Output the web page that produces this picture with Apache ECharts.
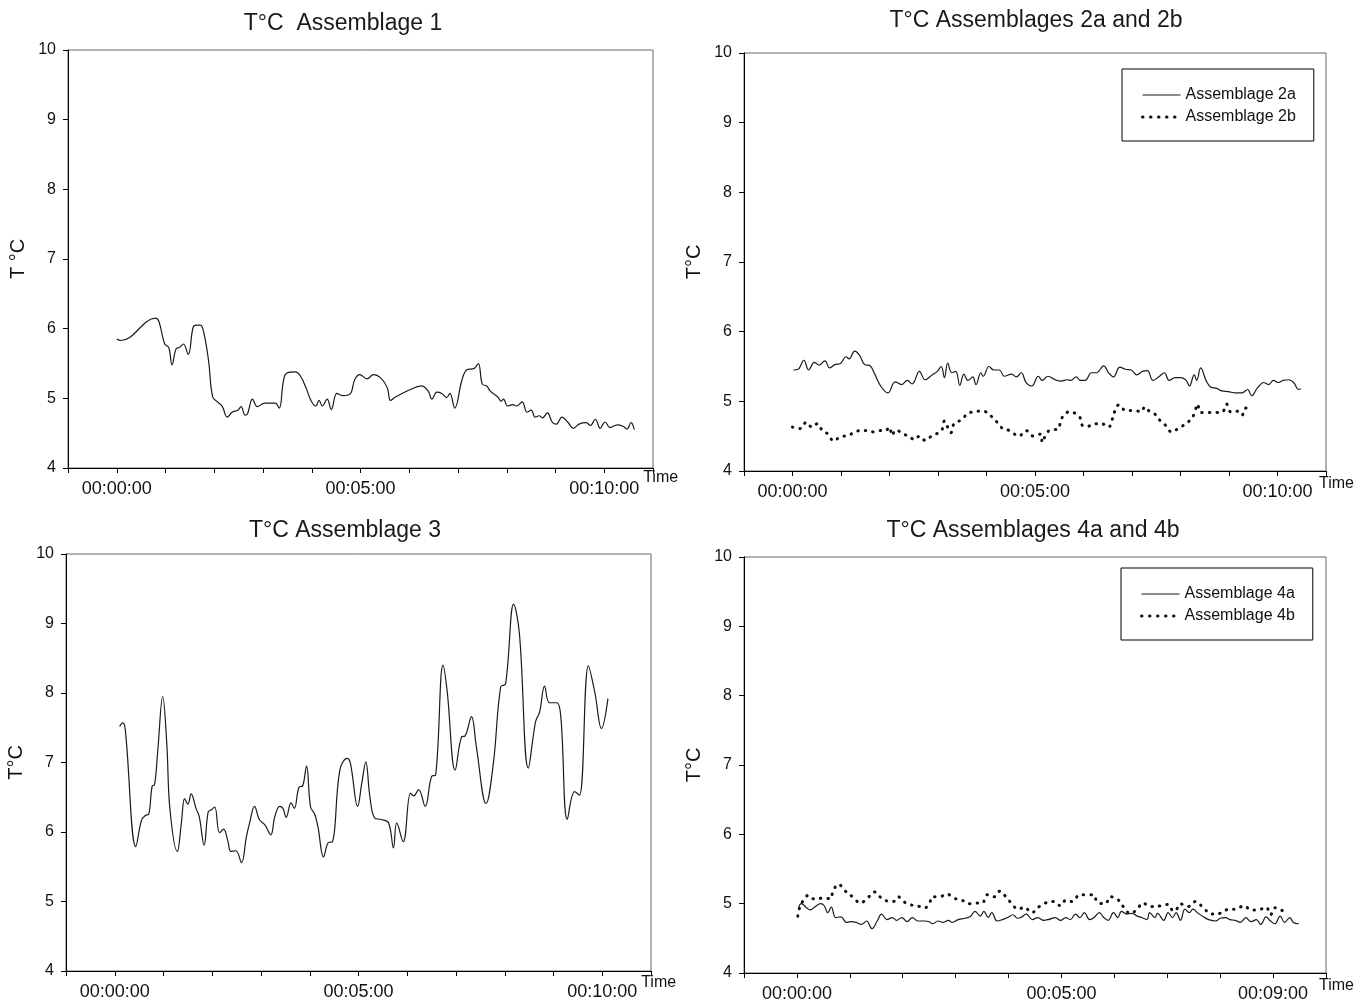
<!DOCTYPE html>
<html>
<head>
<meta charset="utf-8">
<title>Temperature of assemblages</title>
<script src="https://cdn.jsdelivr.net/npm/echarts@6/dist/echarts.min.js"></script>
<style>
  html, body { margin: 0; padding: 0; background: #fff; }
  #chart { width: 1370px; height: 1003px; }
</style>
</head>
<body>
<div id="chart"></div>
<script>
// ---- Data: elapsed time in seconds, temperature in °C ----

// Assemblage 1
const a1Time = [0, 5, 48, 52, 59, 64, 68, 73, 77, 82, 88, 94, 98, 103, 107, 113, 118, 124, 130, 136,
  142, 149, 153, 158, 161, 167, 173, 182, 195, 200, 205, 209, 220, 226, 233, 239, 245, 249, 253, 259,
  264, 271, 278, 287, 293, 299, 308, 316, 326, 333, 337, 343, 360, 375, 383, 388, 394, 400, 406, 410,
  416, 425, 431, 440, 445, 450, 455, 460, 469, 473, 476, 481, 487, 492, 499, 505, 510, 515, 520, 524,
  530, 536, 541, 548, 555, 562, 569, 578, 583, 589, 595, 601, 607, 616, 623, 628, 633, 637];
const a1Temp = [5.85, 5.83, 6.15, 6.10, 5.78, 5.73, 5.48, 5.71, 5.73, 5.78, 5.63, 6.02, 6.05, 6.05, 5.95, 5.54, 5.02, 4.95, 4.88, 4.73,
  4.80, 4.83, 4.88, 4.76, 4.78, 4.99, 4.88, 4.93, 4.93, 4.86, 5.24, 5.36, 5.38, 5.32, 5.15, 4.97, 4.89, 4.97, 4.89, 4.99,
  4.84, 5.07, 5.04, 5.06, 5.27, 5.34, 5.28, 5.34, 5.28, 5.15, 4.97, 5.02, 5.12, 5.18, 5.11, 4.99, 5.09, 5.07, 5.01, 5.07,
  4.86, 5.27, 5.41, 5.43, 5.50, 5.20, 5.18, 5.10, 5.02, 4.96, 4.99, 4.89, 4.91, 4.89, 4.95, 4.80, 4.83, 4.73, 4.75, 4.72,
  4.79, 4.66, 4.63, 4.73, 4.66, 4.57, 4.63, 4.65, 4.61, 4.70, 4.57, 4.66, 4.58, 4.62, 4.60, 4.56, 4.65, 4.55];

// Assemblage 2a
const a2aTime = [1, 7, 14, 20, 27, 33, 40, 46, 53, 59, 66, 70, 77, 83, 89, 96, 101, 109, 118, 127,
  135, 142, 148, 157, 164, 173, 179, 184, 188, 192, 197, 202, 207, 212, 217, 223, 227, 233, 236, 243,
  249, 256, 262, 271, 277, 283, 289, 296, 304, 309, 316, 325, 332, 340, 344, 351, 356, 362, 370, 376,
  385, 391, 397, 405, 412, 419, 426, 433, 439, 446, 454, 460, 466, 473, 481, 487, 491, 497, 500, 505,
  512, 518, 524, 531, 539, 548, 556, 563, 568, 575, 583, 589, 595, 601, 607, 614, 620, 626, 629];
const a2aTemp = [5.45, 5.46, 5.59, 5.45, 5.56, 5.52, 5.58, 5.48, 5.53, 5.54, 5.64, 5.61, 5.72, 5.66, 5.53, 5.51, 5.41, 5.22, 5.12, 5.28,
  5.24, 5.30, 5.25, 5.43, 5.31, 5.38, 5.43, 5.50, 5.34, 5.55, 5.41, 5.43, 5.23, 5.39, 5.30, 5.35, 5.24, 5.41, 5.36, 5.50,
  5.45, 5.45, 5.36, 5.39, 5.35, 5.41, 5.27, 5.22, 5.36, 5.30, 5.36, 5.31, 5.29, 5.31, 5.30, 5.35, 5.30, 5.30, 5.41, 5.41,
  5.51, 5.41, 5.35, 5.49, 5.46, 5.45, 5.38, 5.43, 5.44, 5.30, 5.36, 5.41, 5.30, 5.34, 5.34, 5.30, 5.22, 5.38, 5.30, 5.48,
  5.29, 5.20, 5.19, 5.15, 5.14, 5.12, 5.12, 5.17, 5.08, 5.19, 5.27, 5.24, 5.30, 5.27, 5.30, 5.31, 5.27, 5.17, 5.18];

// Assemblage 2b
const a2bTime = [0, 10, 17, 24, 31, 37, 44, 51, 59, 69, 77, 84, 92, 101, 107, 115, 120, 123, 128, 137,
  144, 151, 157, 164, 173, 181, 185, 188, 192, 196, 200, 210, 216, 224, 233, 241, 248, 254, 261, 269,
  280, 289, 298, 307, 309, 313, 319, 328, 332, 336, 343, 351, 356, 359, 365, 373, 382, 391, 395, 398,
  404, 412, 423, 431, 436, 442, 448, 455, 462, 469, 476, 483, 491, 497, 501, 505, 512, 523, 532, 537,
  542, 548, 552, 556, 560, 569];
const a2bTemp = [4.63, 4.61, 4.70, 4.63, 4.68, 4.58, 4.53, 4.43, 4.49, 4.51, 4.56, 4.58, 4.58, 4.56, 4.58, 4.58, 4.63, 4.51, 4.59, 4.53,
  4.50, 4.45, 4.50, 4.44, 4.51, 4.55, 4.59, 4.72, 4.63, 4.55, 4.68, 4.74, 4.82, 4.85, 4.86, 4.84, 4.76, 4.69, 4.60, 4.58,
  4.50, 4.58, 4.50, 4.53, 4.41, 4.51, 4.59, 4.60, 4.72, 4.81, 4.85, 4.82, 4.76, 4.65, 4.64, 4.68, 4.68, 4.63, 4.72, 4.84,
  4.95, 4.87, 4.87, 4.85, 4.92, 4.85, 4.82, 4.72, 4.65, 4.56, 4.60, 4.65, 4.72, 4.82, 4.96, 4.84, 4.84, 4.84, 4.85, 4.96,
  4.85, 4.86, 4.85, 4.80, 4.90, 4.91];

// Assemblage 3
const a3Time = [6, 10, 13, 26, 33, 38, 42, 46, 49, 53, 59, 64, 68, 77, 82, 86, 90, 94, 100, 104,
  110, 115, 119, 123, 129, 134, 139, 143, 149, 156, 162, 166, 172, 178, 185, 192, 197, 203, 207, 211,
  217, 221, 227, 231, 236, 241, 246, 250, 257, 263, 268, 277, 286, 290, 299, 304, 309, 314, 320, 328,
  337, 343, 347, 355, 364, 368, 374, 382, 390, 395, 404, 409, 419, 427, 431, 439, 445, 457, 466, 475,
  481, 491, 498, 509, 518, 523, 529, 535, 544, 549, 557, 566, 572, 583, 591, 599, 607];
const a3Temp = [7.52, 7.57, 7.47, 5.79, 6.17, 6.24, 6.26, 6.66, 6.68, 7.18, 7.95, 7.28, 6.32, 5.72, 6.13, 6.48, 6.40, 6.55, 6.34, 6.22,
  5.81, 6.29, 6.32, 6.36, 5.99, 6.04, 5.88, 5.72, 5.73, 5.56, 5.93, 6.13, 6.37, 6.18, 6.10, 5.96, 6.22, 6.37, 6.34, 6.21,
  6.42, 6.34, 6.65, 6.66, 6.95, 6.36, 6.26, 6.08, 5.64, 5.85, 5.86, 6.89, 7.06, 6.99, 6.37, 6.70, 7.01, 6.51, 6.20, 6.18,
  6.13, 5.77, 6.13, 5.86, 6.56, 6.52, 6.61, 6.37, 6.80, 6.82, 8.40, 8.04, 6.89, 7.37, 7.38, 7.66, 7.23, 6.41, 6.99, 8.09,
  8.13, 9.28, 8.86, 6.92, 7.59, 7.73, 8.10, 7.86, 7.86, 7.66, 6.18, 6.58, 6.53, 8.39, 8.00, 7.49, 7.92];

// Assemblage 4a
const a4aTime = [2, 5, 11, 15, 21, 27, 31, 35, 39, 44, 50, 56, 61, 67, 73, 79, 85, 91, 96, 102,
  108, 113, 119, 125, 131, 137, 145, 150, 154, 160, 166, 172, 176, 183, 191, 197, 202, 208, 212, 217,
  221, 227, 233, 239, 245, 250, 254, 260, 267, 273, 280, 285, 293, 299, 305, 310, 316, 321, 326, 332,
  337, 343, 348, 353, 359, 364, 368, 374, 380, 386, 391, 397, 400, 406, 409, 416, 421, 426, 430, 435,
  440, 445, 449, 455, 461, 467, 475, 480, 486, 491, 497, 503, 509, 515, 521, 526, 532, 537, 542, 548,
  553, 559, 563, 569];
const a4aTemp = [4.95, 5.00, 4.94, 4.91, 4.96, 5.00, 4.97, 4.87, 4.95, 4.80, 4.81, 4.73, 4.74, 4.73, 4.70, 4.75, 4.64, 4.75, 4.85, 4.77,
  4.80, 4.76, 4.80, 4.74, 4.80, 4.75, 4.75, 4.74, 4.71, 4.75, 4.73, 4.76, 4.73, 4.77, 4.79, 4.82, 4.89, 4.82, 4.89, 4.80,
  4.87, 4.75, 4.77, 4.80, 4.84, 4.79, 4.80, 4.85, 4.77, 4.80, 4.76, 4.77, 4.80, 4.76, 4.80, 4.77, 4.85, 4.80, 4.87, 4.77,
  4.80, 4.87, 4.80, 4.76, 4.87, 4.80, 4.89, 4.85, 4.86, 4.82, 4.80, 4.77, 4.87, 4.80, 4.86, 4.76, 4.87, 4.80, 4.87, 4.76,
  4.92, 4.87, 4.92, 4.86, 4.81, 4.77, 4.75, 4.79, 4.80, 4.77, 4.76, 4.73, 4.80, 4.74, 4.77, 4.70, 4.81, 4.75, 4.71, 4.82,
  4.73, 4.80, 4.73, 4.71];

// Assemblage 4b
const a4bTime = [1, 3, 7, 13, 19, 31, 38, 41, 47, 55, 64, 72, 80, 88, 94, 102, 109, 115, 119, 127,
  136, 145, 150, 154, 162, 170, 178, 187, 196, 202, 210, 216, 224, 230, 237, 243, 251, 258, 266, 275,
  282, 291, 299, 305, 312, 321, 329, 336, 341, 350, 355, 363, 370, 378, 386, 392, 401, 407, 413, 421,
  427, 430, 435, 440, 444, 452, 461, 470, 480, 490, 497, 507, 515, 523, 532, 537, 542, 548, 551, 556];
const a4bTemp = [4.82, 4.94, 5.04, 5.12, 5.07, 5.08, 5.07, 5.18, 5.28, 5.18, 5.09, 5.01, 5.08, 5.17, 5.10, 5.04, 5.03, 5.10, 5.05, 4.99,
  4.97, 4.94, 5.00, 5.10, 5.10, 5.14, 5.08, 5.05, 5.00, 5.01, 5.01, 5.13, 5.10, 5.18, 5.10, 5.01, 4.92, 4.95, 4.87, 4.96,
  5.01, 5.03, 4.97, 5.05, 5.03, 5.13, 5.13, 5.13, 5.02, 5.00, 5.10, 5.07, 4.96, 4.86, 4.92, 5.01, 4.96, 4.96, 4.97, 4.99,
  4.89, 4.91, 5.00, 4.97, 4.96, 5.03, 4.94, 4.85, 4.86, 4.92, 4.92, 4.97, 4.91, 4.91, 4.95, 4.84, 4.94, 4.92, 4.90, 4.92];

// Labelled x ticks (seconds) and their texts
const xLabelSeconds = [0, 300, 600];
const xLabelTexts = ['00:00:00', '00:05:00', '00:10:00'];
const xLabelSeconds4 = [0, 300, 540];
const xLabelTexts4 = ['00:00:00', '00:05:00', '00:09:00'];

// ---- Chart ----
const FONT = '"Liberation Sans", Arial, sans-serif';
const INK = '#1a1a1a';

const zip = (xs, ys) => xs.map((x, i) => [x, ys[i]]);

const solid = { color: INK, width: 1.2 };
const dotted = { color: '#111', width: 3, type: [0.5, 7], cap: 'round' };

// Legend samples
const legendSolid = { color: INK, width: 1.2 };
const legendDotted = { color: '#111', width: 3, type: [0.5, 7.5], cap: 'round' };

const panels = [
  { grid: { left: 68, top: 50, width: 585, height: 418 }, xMax: 660,
    labels: [xLabelSeconds, xLabelTexts], yName: 'T °C', nameGap: -17, namePad: 2,
    title: 'T°C  Assemblage 1', titleX: 343, titleY: 12 },
  { grid: { left: 744, top: 53, width: 582, height: 418 }, xMax: 660,
    labels: [xLabelSeconds, xLabelTexts], yName: 'T°C', nameGap: -7, namePad: 5,
    title: 'T°C Assemblages 2a and 2b', titleX: 1036, titleY: 9 },
  { grid: { left: 66, top: 554, width: 585, height: 417 }, xMax: 660,
    labels: [xLabelSeconds, xLabelTexts], yName: 'T°C', nameGap: -17, namePad: 4,
    title: 'T°C Assemblage 3', titleX: 345, titleY: 519 },
  { grid: { left: 744, top: 557, width: 582, height: 416 }, xMax: 600,
    labels: [xLabelSeconds4, xLabelTexts4], yName: 'T°C', nameGap: -7, namePad: 5,
    title: 'T°C Assemblages 4a and 4b', titleX: 1033, titleY: 519 }
];

const axisText = { fontFamily: FONT, color: '#111' };

const option = {
  animation: false,
  backgroundColor: '#fff',
  title: panels.map(p => ({
    text: p.title, left: p.titleX, top: p.titleY, textAlign: 'center', padding: 0,
    textStyle: { fontFamily: FONT, fontSize: 23, fontWeight: 'normal', color: INK }
  })),
  grid: panels.map(p => Object.assign({ show: true, borderColor: '#666', borderWidth: 1,
    backgroundColor: 'transparent', containLabel: false }, p.grid)),
  xAxis: panels.map((p, i) => ({
    gridIndex: i, type: 'value', min: -60, max: p.xMax, interval: 60,
    axisLine: { show: true, onZero: false, lineStyle: { color: '#000', width: 1 } },
    axisTick: { show: true, inside: false, length: 5, lineStyle: { color: '#000' } },
    splitLine: { show: false },
    axisLabel: Object.assign({
      margin: 12, fontSize: 18, hideOverlap: false, showMinLabel: true, showMaxLabel: true,
      formatter: v => { const k = p.labels[0].indexOf(v); return k >= 0 ? p.labels[1][k] : ''; }
    }, axisText),
    name: 'Time', nameLocation: 'end', nameGap: p.nameGap,
    nameTextStyle: Object.assign({ fontSize: 16, verticalAlign: 'top', align: 'left',
      padding: [p.namePad, 0, 0, 0] }, axisText)
  })),
  yAxis: panels.map((p, i) => ({
    gridIndex: i, type: 'value', min: 4, max: 10, interval: 1,
    axisLine: { show: true, onZero: false, lineStyle: { color: '#000', width: 1 } },
    axisTick: { show: true, inside: false, length: 5, lineStyle: { color: '#000' } },
    splitLine: { show: false },
    axisLabel: Object.assign({ margin: 12, fontSize: 16 }, axisText),
    name: p.yName, nameLocation: 'middle', nameGap: 40, nameRotate: 90,
    nameTextStyle: Object.assign({ fontSize: 20 }, axisText)
  })),
  legend: [
    { data: [{ name: 'Assemblage 2a', lineStyle: legendSolid }, { name: 'Assemblage 2b', lineStyle: legendDotted }],
      left: 1122, top: 69 },
    { data: [{ name: 'Assemblage 4a', lineStyle: legendSolid }, { name: 'Assemblage 4b', lineStyle: legendDotted }],
      left: 1121, top: 568 }
  ].map(l => Object.assign({
    orient: 'vertical', padding: [18, 18, 16, 19], itemWidth: 38, itemHeight: 14, itemGap: 6,
    borderColor: '#000', borderWidth: 1, borderRadius: 0, backgroundColor: '#fff',
    itemStyle: { opacity: 0 },
    selectedMode: false, textStyle: Object.assign({ fontSize: 16 }, axisText)
  }, l)),
  series: [
    { name: 'Assemblage 1', data: zip(a1Time, a1Temp), idx: 0, line: solid },
    { name: 'Assemblage 2a', data: zip(a2aTime, a2aTemp), idx: 1, line: solid },
    { name: 'Assemblage 2b', data: zip(a2bTime, a2bTemp), idx: 1, line: dotted },
    { name: 'Assemblage 3', data: zip(a3Time, a3Temp), idx: 2, line: solid },
    { name: 'Assemblage 4a', data: zip(a4aTime, a4aTemp), idx: 3, line: solid },
    { name: 'Assemblage 4b', data: zip(a4bTime, a4bTemp), idx: 3, line: dotted }
  ].map(s => ({
    type: 'line', name: s.name, xAxisIndex: s.idx, yAxisIndex: s.idx, data: s.data,
    symbol: 'none', showSymbol: false, smooth: 0.4, silent: true,
    itemStyle: { color: s.line.color },
    lineStyle: s.line, emphasis: { disabled: true }
  }))
};

const chart = echarts.init(document.getElementById('chart'), null, { renderer: 'canvas' });
chart.setOption(option);
</script>
</body>
</html>
